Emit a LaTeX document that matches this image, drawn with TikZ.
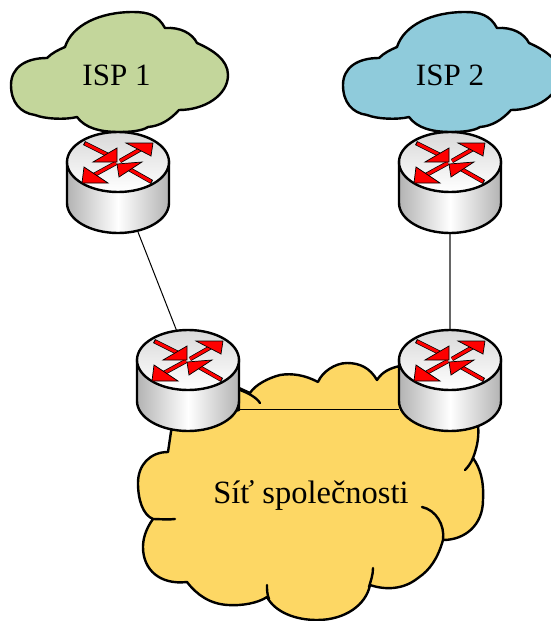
\documentclass[tikz,border=0pt]{standalone}
\usepackage{fontspec}
\setmainfont{Liberation Serif}
\tikzset{
  routerbox/.style={minimum width=102pt,minimum height=99pt,inner sep=0pt,outer sep=0pt},
  cloudline/.style={draw=black,line width=2.4pt,line join=round},
  hookline/.style={draw=black,line width=2.4pt,line cap=round},
  linkline/.style={draw=black,line width=1pt},
  label/.style={anchor=base,inner sep=0pt,font=\fontsize{31}{36}\selectfont},
  arrowshaft/.style={line width=4.4pt,draw=black},
  arrowcore/.style={line width=3pt,draw=red},
  arrowhead/.style={fill=red,draw=black,line width=0.7pt,line join=miter},
  router/.pic={
    \path[draw=black,line width=2.4pt,left color=black!30,right color=black!30,middle color=white]
      (-51,0) -- (-51,41) arc[start angle=180,end angle=360,x radius=51pt,y radius=30pt] -- (51,0) -- cycle;
    \path[draw=black,line width=2.4pt,top color=black!15,bottom color=white]
      (0,0) ellipse[x radius=51pt,y radius=30pt];
    \draw[arrowshaft] (-34,-19) -- (-10,-7);
    \draw[arrowshaft] (2,-1) -- (23,-13);
    \draw[arrowshaft] (-2,1) -- (-24,13);
    \draw[arrowshaft] (34,20) -- (11,7);
    \draw[arrowcore] (-33,-18.5) -- (-10,-7);
    \draw[arrowcore] (2,-1) -- (23,-13);
    \draw[arrowcore] (-2,1) -- (-24,13);
    \draw[arrowcore] (33,19.5) -- (11,7);
    \path[arrowhead] (-1,-14) -- (-1,0) -- (-25,0) -- cycle;
    \path[arrowhead] (8,-19) -- (35,-19) -- (33,-6) -- cycle;
    \path[arrowhead] (-34,5) -- (-36,21) -- (-10,21) -- cycle;
    \path[arrowhead] (24,0) -- (-1,2) -- (1,15) -- cycle;
  },
  ispcloud/.pic={
    \path[cloudline,pic actions]
      (47,58) .. controls (25,58) and (11,68) .. (11,85)
      .. controls (11,102) and (20,113) .. (35,115)
      .. controls (45,119) and (65,120) .. (77,117)
      .. controls (85,128) and (100,132) .. (119,132)
      .. controls (130,132) and (142,131) .. (148,127)
      .. controls (160,126) and (170,120) .. (179,110)
      .. controls (205,110) and (228,95) .. (228,75)
      .. controls (228,60) and (213,50) .. (197,43)
      .. controls (192,33) and (180,27) .. (165,28)
      .. controls (158,15) and (148,12) .. (133,12)
      .. controls (100,12) and (72,25) .. (65,47)
      .. controls (58,50) and (52,53) .. (47,58) -- cycle;
  }
}
\definecolor{ispgreen}{HTML}{C3D69B}
\definecolor{ispblue}{HTML}{8FCBDB}
\definecolor{netyellow}{HTML}{FDD764}
\begin{document}
\begin{tikzpicture}[x=1pt,y=-1pt]
\useasboundingbox (0,0) rectangle (551,621);
\clip (0,0) rectangle (551,621);
\node[routerbox] (r1) at (118,182.5) {};
\node[routerbox] (r2) at (450,182.5) {};
\node[routerbox] (r3) at (188,380) {};
\node[routerbox] (r4) at (450,380) {};
% clouds
\pic[fill=ispgreen] at (0,0) {ispcloud};
\pic[fill=ispblue] at (332,0) {ispcloud};
\path[cloudline,fill=netyellow]
  (172,425) -- (168,452)
  .. controls (150,452) and (138,465) .. (138,483)
  .. controls (138,500) and (143,515) .. (153,519)
  .. controls (145,530) and (143,540) .. (143,547)
  .. controls (143,570) and (160,585) .. (187,582)
  .. controls (197,595) and (210,604) .. (228,605)
  .. controls (242,606) and (258,603) .. (267,597)
  .. controls (275,612) and (295,620) .. (317,620)
  .. controls (345,620) and (366,605) .. (370,585)
  .. controls (385,590) and (403,590) .. (418,578)
  .. controls (430,570) and (438,558) .. (443,540)
  .. controls (465,540) and (483,525) .. (483,500)
  .. controls (484,480) and (480,468) .. (473,458)
  .. controls (478,445) and (479,435) .. (478,425)
  -- (475,400) -- (400,400) -- (400,366)
  .. controls (390,368) and (382,372) .. (377,380)
  .. controls (370,368) and (360,363) .. (347,363)
  .. controls (335,363) and (322,372) .. (318,382)
  .. controls (305,375) and (292,373) .. (280,375)
  .. controls (268,378) and (255,385) .. (250,393)
  -- (239,388) -- (239,410) -- cycle;
\draw[hookline] (153,519) .. controls (160,519) and (168,520) .. (175,519);
\draw[hookline] (267,585) .. controls (267,590) and (267,594) .. (269,599);
\draw[hookline] (373,568) .. controls (373,575) and (371,580) .. (369,587);
\draw[hookline] (443,540) .. controls (445,525) and (436,510) .. (422,507);
\draw[hookline] (473,458) .. controls (471,463) and (468,467) .. (465,470);
\draw[hookline] (240,390) .. controls (248,393) and (256,397) .. (260,403);
% connectors
\draw[linkline] (r1.-68) -- (r3.103);
\draw[linkline,draw=black!60,line width=1.5pt] (r2.south) -- (r4.north);
\draw[linkline] (r3.-30) -- (r4.-150);
% routers
\pic at ([yshift=20.5pt]r1.center) {router};
\pic at ([yshift=20.5pt]r2.center) {router};
\pic at ([yshift=20pt]r3.center) {router};
\pic at ([yshift=20pt]r4.center) {router};
% labels
\node[label] (isp1) at (116.5,85) {ISP 1};
\node[label] (isp2) at (450,85) {ISP 2};
\node[label,font=\fontsize{32.5}{38}\selectfont] (net) at (311,503) {Síť společnosti};
\end{tikzpicture}
\end{document}
